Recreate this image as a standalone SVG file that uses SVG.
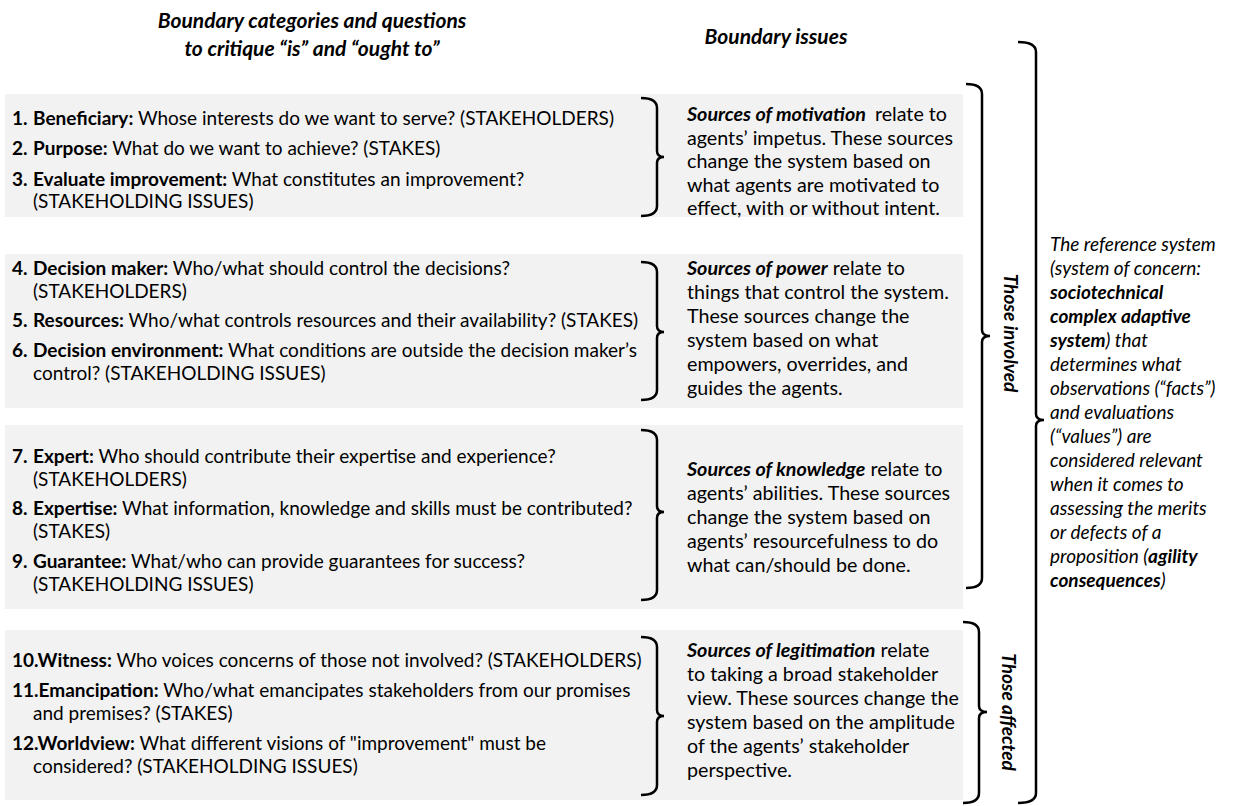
<svg xmlns="http://www.w3.org/2000/svg" width="1246" height="806" viewBox="0 0 1246 806">
<style>
text{font-family:Lato,"Open Sans","Liberation Sans",sans-serif;fill:#000}
.q{font-size:19px}
.s{font-size:19.7px}
.r{font-size:19px;font-style:italic}
.h{font-size:21px;font-weight:bold;font-style:italic}
.b{font-weight:bold}
.bi{font-weight:bold;font-style:italic}
.box{fill:#f2f2f2}
.brace{fill:none;stroke:#000;stroke-width:2.5}
</style>
<rect width="1246" height="806" fill="#fff"/>
<g id="headers">
<text class="h" x="312" y="28" text-anchor="middle">Boundary categories and questions</text>
<text class="h" x="312" y="56" text-anchor="middle">to critique “is” and “ought to”</text>
<text class="h" x="776" y="44" text-anchor="middle">Boundary issues</text>
</g>
<g id="row1">
<rect class="box" x="5" y="94" width="958" height="123"/>
<text class="q" x="12" y="125"><tspan class="b">1.</tspan><tspan class="b" x="33">Beneficiary:</tspan> Whose interests do we want to serve? (STAKEHOLDERS)</text>
<text class="q" x="12" y="155"><tspan class="b">2.</tspan><tspan class="b" x="33">Purpose:</tspan> What do we want to achieve? (STAKES)</text>
<text class="q" x="12" y="186"><tspan class="b">3.</tspan><tspan class="b" x="33">Evaluate improvement:</tspan> What constitutes an improvement?</text>
<text class="q" x="33" y="208">(STAKEHOLDING ISSUES)</text>
<text class="s" x="687" y="121"><tspan class="bi">Sources of motivation</tspan><tspan dx="9">relate to</tspan></text>
<text class="s" x="687" y="144.5">agents’ impetus. These sources</text>
<text class="s" x="687" y="168">change the system based on</text>
<text class="s" x="687" y="191.5">what agents are motivated to</text>
<text class="s" x="687" y="215">effect, with or without intent.</text>
</g>
<g id="row2">
<rect class="box" x="5" y="254" width="958" height="154"/>
<text class="q" x="12" y="275"><tspan class="b">4.</tspan><tspan class="b" x="33">Decision maker:</tspan> Who/what should control the decisions?</text>
<text class="q" x="33" y="298">(STAKEHOLDERS)</text>
<text class="q" x="12" y="327"><tspan class="b">5.</tspan><tspan class="b" x="33">Resources:</tspan> Who/what controls resources and their availability? (STAKES)</text>
<text class="q" x="12" y="357"><tspan class="b">6.</tspan><tspan class="b" x="33">Decision environment:</tspan> What conditions are outside the decision maker’s</text>
<text class="q" x="33" y="380">control? (STAKEHOLDING ISSUES)</text>
<text class="s" x="687" y="275"><tspan class="bi">Sources of power</tspan> relate to</text>
<text class="s" x="687" y="299">things that control the system.</text>
<text class="s" x="687" y="323">These sources change the</text>
<text class="s" x="687" y="347">system based on what</text>
<text class="s" x="687" y="371">empowers, overrides, and</text>
<text class="s" x="687" y="395">guides the agents.</text>
</g>
<g id="row3">
<rect class="box" x="5" y="425" width="958" height="184"/>
<text class="q" x="12" y="463"><tspan class="b">7.</tspan><tspan class="b" x="33">Expert:</tspan> Who should contribute their expertise and experience?</text>
<text class="q" x="33" y="486">(STAKEHOLDERS)</text>
<text class="q" x="12" y="515"><tspan class="b">8.</tspan><tspan class="b" x="33">Expertise:</tspan> What information, knowledge and skills must be contributed?</text>
<text class="q" x="33" y="538">(STAKES)</text>
<text class="q" x="12" y="568"><tspan class="b">9.</tspan><tspan class="b" x="33">Guarantee:</tspan> What/who can provide guarantees for success?</text>
<text class="q" x="33" y="591">(STAKEHOLDING ISSUES)</text>
<text class="s" x="687" y="476"><tspan class="bi">Sources of knowledge</tspan> relate to</text>
<text class="s" x="687" y="500">agents’ abilities. These sources</text>
<text class="s" x="687" y="524">change the system based on</text>
<text class="s" x="687" y="548">agents’ resourcefulness to do</text>
<text class="s" x="687" y="572">what can/should be done.</text>
</g>
<g id="row4">
<rect class="box" x="5" y="630" width="958" height="170"/>
<text class="q" x="12" y="667"><tspan class="b">10.Witness:</tspan> Who voices concerns of those not involved? (STAKEHOLDERS)</text>
<text class="q" x="12" y="697"><tspan class="b">11.Emancipation:</tspan> Who/what emancipates stakeholders from our promises</text>
<text class="q" x="33" y="720">and premises? (STAKES)</text>
<text class="q" x="12" y="750"><tspan class="b">12.Worldview:</tspan> What different visions of "improvement" must be</text>
<text class="q" x="33" y="773">considered? (STAKEHOLDING ISSUES)</text>
<text class="s" x="687" y="657"><tspan class="bi">Sources of legitimation</tspan> relate</text>
<text class="s" x="687" y="681">to taking a broad stakeholder</text>
<text class="s" x="687" y="705">view. These sources change the</text>
<text class="s" x="687" y="729">system based on the amplitude</text>
<text class="s" x="687" y="753">of the agents’ stakeholder</text>
<text class="s" x="687" y="777">perspective.</text>
</g>
<g id="involved-label">
<text class="bi" font-size="19" transform="translate(1004,333) rotate(90)" text-anchor="middle">Those involved</text>
</g>
<g id="affected-label">
<text class="bi" font-size="19" transform="translate(1002,712) rotate(90)" text-anchor="middle">Those affected</text>
</g>
<g id="reference-system">
<text class="r" x="1050" y="251">The reference system</text>
<text class="r" x="1050" y="275">(system of concern:</text>
<text class="r bi" x="1050" y="299">sociotechnical</text>
<text class="r bi" x="1050" y="323">complex adaptive</text>
<text class="r" x="1050" y="347"><tspan class="bi">system</tspan>) that</text>
<text class="r" x="1050" y="371">determines what</text>
<text class="r" x="1050" y="395">observations (“facts”)</text>
<text class="r" x="1050" y="419">and evaluations</text>
<text class="r" x="1050" y="443">(“values”) are</text>
<text class="r" x="1050" y="467">considered relevant</text>
<text class="r" x="1050" y="491">when it comes to</text>
<text class="r" x="1050" y="515">assessing the merits</text>
<text class="r" x="1050" y="539">or defects of a</text>
<text class="r" x="1050" y="563">proposition (<tspan class="bi">agility</tspan></text>
<text class="r" x="1050" y="587"><tspan class="bi">consequences</tspan>)</text>
</g>
<g id="connectors">
<path class="brace" d="M641 98 Q657 98 657 108 L657 151 Q657 157 664 157 Q657 157 657 163 L657 206 Q657 216 641 216"/>
<path class="brace" d="M641 262 Q657 262 657 272 L657 326 Q657 332 664 332 Q657 332 657 338 L657 390 Q657 400 641 400"/>
<path class="brace" d="M641 430 Q657 430 657 440 L657 506 Q657 512 664 512 Q657 512 657 518 L657 590 Q657 600 641 600"/>
<path class="brace" d="M641 637 Q657 637 657 647 L657 710 Q657 716 664 716 Q657 716 657 722 L657 785 Q657 795 641 795"/>
<path class="brace" d="M966 84 Q982 84 982 94 L982 330 Q982 336 990 336 Q982 336 982 342 L982 578 Q982 588 966 588"/>
<path class="brace" d="M963 622 Q979 622 979 632 L979 706 Q979 712 987 712 Q979 712 979 718 L979 793 Q979 803 963 803"/>
<path class="brace" d="M1018 42 Q1036 42 1036 52 L1036 414 Q1036 420 1044 420 Q1036 420 1036 426 L1036 793 Q1036 803 1018 803"/>
</g>
</svg>
